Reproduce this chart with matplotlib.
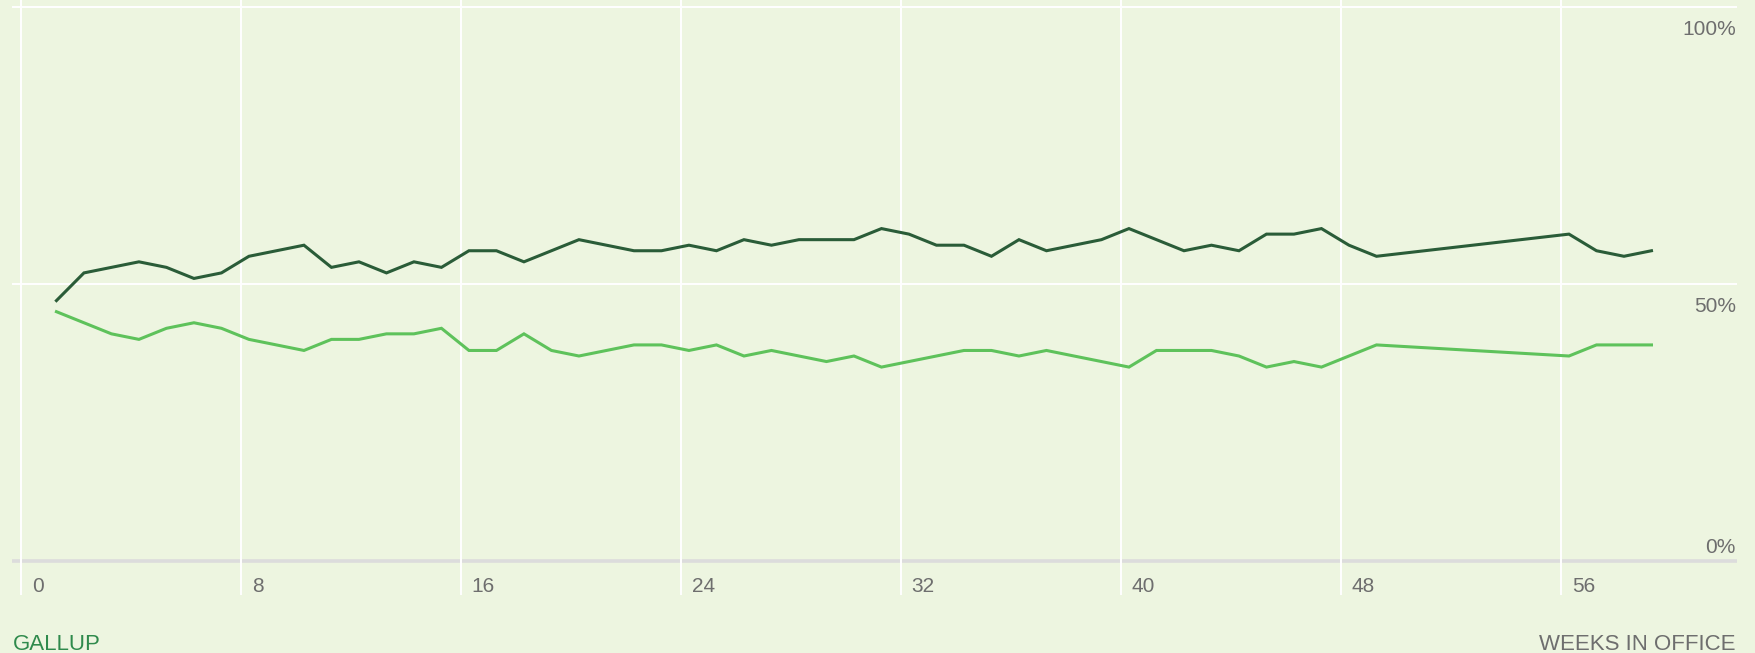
import numpy as np
import matplotlib
matplotlib.use('Agg')
import matplotlib.pyplot as plt

plt.rcParams['font.family'] = ['Liberation Sans', 'DejaVu Sans']

# Gallup weekly poll, week in office
weeks = [1, 2, 3, 4, 5, 6, 7, 8, 9, 10, 11, 12, 13, 14, 15, 16, 17, 18, 19, 20,
         21, 22, 23, 24, 25, 26, 27, 28, 29, 30, 31, 32, 33, 34, 35, 36, 37, 38, 39, 40,
         41, 42, 43, 44, 45, 46, 47, 48, 49, 56, 57, 58, 59]
disapprove = [47, 52, 53, 54, 53, 51, 52, 55, 56, 57, 53, 54, 52, 54, 53, 56, 56, 54, 56, 58,
              57, 56, 56, 57, 56, 58, 57, 58, 58, 58, 60, 59, 57, 57, 55, 58, 56, 57, 58, 60,
              58, 56, 57, 56, 59, 59, 60, 57, 55, 59, 56, 55, 56]
approve = [45, 43, 41, 40, 42, 43, 42, 40, 39, 38, 40, 40, 41, 41, 42, 38, 38, 41, 38, 37,
           38, 39, 39, 38, 39, 37, 38, 37, 36, 37, 35, 36, 37, 38, 38, 37, 38, 37, 36, 35,
           38, 38, 38, 37, 35, 36, 35, 37, 39, 37, 39, 39, 39]
x_ticks = [0, 8, 16, 24, 32, 40, 48, 56]
y_ticks = [0, 50, 100]

bg = '#edf5e0'
dark = '#2a5c38'
light = '#5ec25b'
grey_text = '#6e6e6e'

fig = plt.figure(figsize=(17.56, 6.53), dpi=100, facecolor=bg)
ax = fig.add_axes([12 / 1756, 58 / 653, 1725 / 1756, 595 / 653])
ax.set_facecolor(bg)
ax.set_xlim(-0.316, 62.41)
ax.set_ylim(-6.14, 101.26)
for s in ax.spines.values():
    s.set_visible(False)
ax.set_xticks([])
ax.set_yticks([])

# grid
ax.axhline(0, color='#dcdcdc', lw=2.6, zorder=1)
for t in x_ticks:
    ax.axvline(t, color='white', lw=1.4, zorder=2)
for v in y_ticks[1:]:
    ax.axhline(v, color='white', lw=1.4, zorder=2)

# poll midpoints fall a little after each week mark
x = np.array(weeks) + 0.3
ax.plot(x, disapprove, color=dark, lw=2.2, zorder=3, solid_joinstyle='miter')
ax.plot(x, approve, color=light, lw=2.2, zorder=3, solid_joinstyle='miter')

for t in x_ticks:
    ax.text(t + 0.4, -5.6, str(t), fontsize=15, color=grey_text, va='baseline', ha='left')

for v in y_ticks:
    yy = v - 5.1 if v > 0 else 1.4
    ax.text(62.37, yy, f'{v}%', fontsize=15, color=grey_text, va='baseline', ha='right')

fig.text(13 / 1756, 3 / 653, 'GALLUP', fontsize=16, color='#2f8a4c', va='baseline', ha='left')
fig.text(1736 / 1756, 3 / 653, 'WEEKS IN OFFICE', fontsize=16, color=grey_text,
         va='baseline', ha='right')

fig.savefig('out.png', dpi=100, facecolor=bg)
